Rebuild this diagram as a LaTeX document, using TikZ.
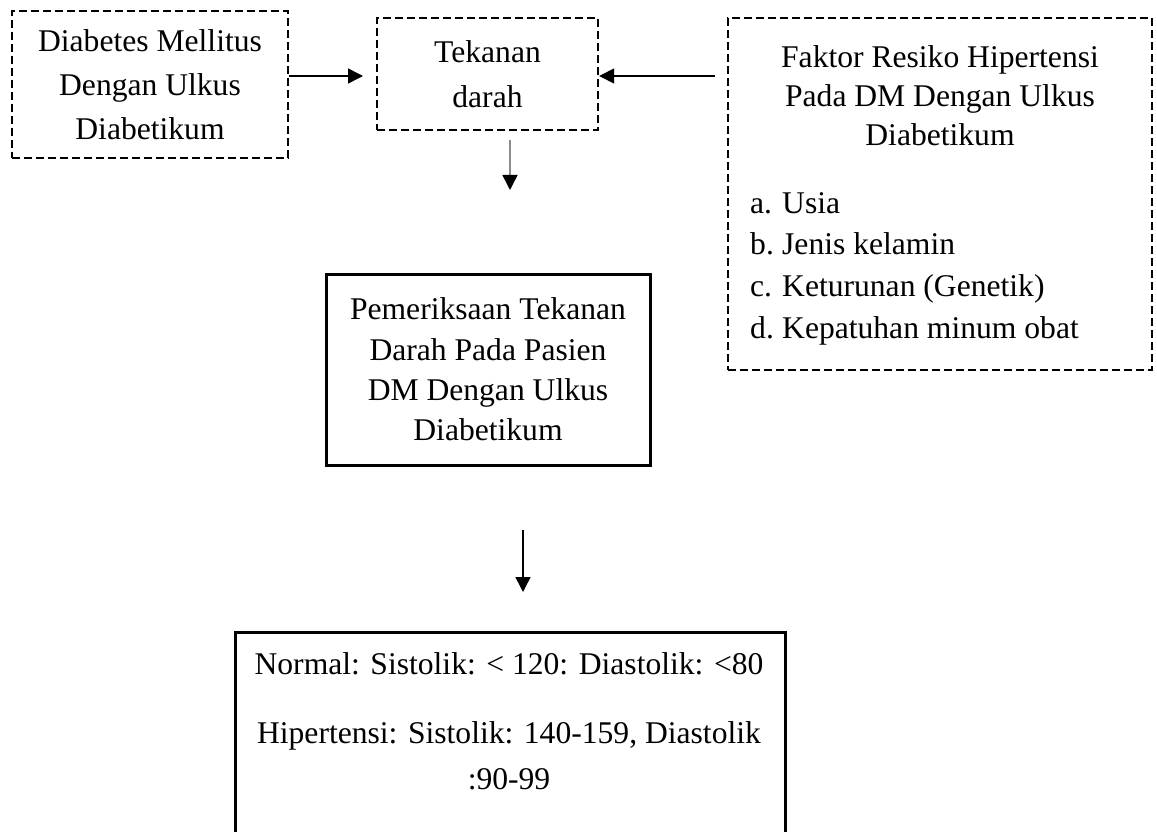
\documentclass[tikz,border=0pt]{standalone}
\usepackage{fontspec}
\setmainfont{Liberation Serif}
\usetikzlibrary{arrows.meta}
\begin{document}
\begin{tikzpicture}[x=1pt,y=-1pt,
  dbox/.style={draw, line width=2.4pt, dash pattern=on 8pt off 4pt, inner sep=0pt, align=center},
  sbox/.style={draw, line width=3pt, inner sep=0pt, align=center},
  txt/.style={inner sep=0pt},
  arr/.style={line width=1.5pt, -{Triangle[length=15pt,width=15pt]}},
  garr/.style={line width=1.5pt, draw=black!45, -{Triangle[length=15pt,width=15pt,color=black]}}]
\useasboundingbox (0,0) rectangle (1157,832);
\clip (0,0) rectangle (1157,832);

% boxes
\node[dbox, minimum width=276pt, minimum height=147pt, font=\fontsize{31.6}{44}\selectfont]
  (A) at (150,84.5) {Diabetes Mellitus\\Dengan Ulkus\\Diabetikum};
\node[dbox, minimum width=221pt, minimum height=112pt, font=\fontsize{31.6}{45}\selectfont]
  (B) at (487.5,74) {Tekanan\\darah};
\node[dbox, minimum width=424pt, minimum height=352pt] (C) at (940,194) {};
\node[txt, anchor=north, align=center, font=\fontsize{31.6}{39}\selectfont]
  (Ct) at (940,45) {Faktor Resiko Hipertensi\\Pada DM Dengan Ulkus\\Diabetikum};
\node[txt, anchor=north west, align=left, font=\fontsize{31.6}{41.7}\selectfont]
  (Cl) at (750,192) {\makebox[32pt][l]{a.}Usia\\\makebox[32pt][l]{b.}Jenis kelamin\\\makebox[32pt][l]{c.}Keturunan (Genetik)\\\makebox[32pt][l]{d.}Kepatuhan minum obat};
\node[sbox, minimum width=324pt, minimum height=191pt, font=\fontsize{31.6}{40.3}\selectfont]
  (D) at (488,369.5) {Pemeriksaan Tekanan\\Darah Pada Pasien\\DM Dengan Ulkus\\Diabetikum};
\node[sbox, minimum width=550pt, minimum height=240pt] (E) at (510,752) {};
\node[txt, anchor=north, align=center, font=\fontsize{31.6}{46}\selectfont]
  (Et) at (509,652) {Normal: Sistolik: < 120: Diastolik: <80\\[23pt]Hipertensi: Sistolik: 140-159, Diastolik\\:90-99};

% connectors
\coordinate (ab) at (363,76);
\draw[arr] (A.east |- ab) -- (ab);
\coordinate (cb) at (715,76);
\draw[arr] (cb) -- (cb -| B.east);
\coordinate (d1) at (510,140);
\coordinate (d2) at (510,190);
\draw[garr] (d1) -- (d2);
\coordinate (e1) at (523,530);
\coordinate (e2) at (523,592);
\draw[arr] (e1) -- (e2);
\end{tikzpicture}
\end{document}
